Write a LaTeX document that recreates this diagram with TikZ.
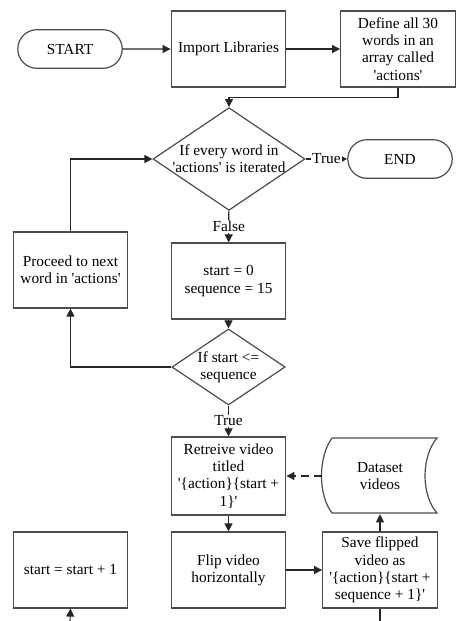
\documentclass[tikz,border=0pt]{standalone}
\usepackage{fontspec}
\setmainfont{Liberation Serif}
\usetikzlibrary{shapes.geometric,shapes.misc,arrows.meta,positioning}
\newcommand{\sq}{\textquotesingle}

\begin{document}
\begin{tikzpicture}[x=0.75pt,y=-0.75pt,
  font=\fontsize{11.5}{13}\selectfont,
  box/.style={draw=black!70,line width=0.9pt,fill=white,minimum width=86pt,minimum height=57pt,align=center,inner sep=1pt},
  term/.style={draw=black!70,line width=0.9pt,rounded rectangle,minimum width=85pt,minimum height=29pt},
  choice/.style={draw=black!70,line width=0.9pt,diamond,shape aspect=1.48,inner sep=-3pt,align=center},
  line/.style={draw=black!85,line width=0.8pt},
  go/.style={line,-{Triangle[length=6pt,width=6pt]}},
  tag/.style={fill=white,inner sep=1pt}]
%
\useasboundingbox (0,0) rectangle (457,621);
%
\node[term] (start) at (70,49) {START};
\node[box] (import) at (228.5,49) {Import Libraries};
\node[box] (define) at (398,49) {Define all 30\\words in an\\array called\\\sq actions\sq};
\node[choice,minimum width=114pt,minimum height=77pt] (check) at (229,159) {If every word in\\\sq actions\sq{} is iterated};
\node[term] (finish) at (400,159) {END};
\node[box] (next) at (70.5,270) {Proceed to next\\word in \sq actions\sq};
\node[box] (init) at (228.5,281) {start = 0\\sequence = 15};
\node[choice,minimum width=85pt,minimum height=57pt] (cond) at (228.5,367) {If start <=\\sequence};
\node[box,minimum height=58.5pt] (fetch) at (228.5,476) {Retreive video\\titled\\\sq\{action\}\{start +\\1\}\sq};
\node[minimum width=86pt,minimum height=57pt,align=center] (data) at (380,476) {Dataset\\videos};
\node[box] (inc) at (70.5,570) {start = start + 1};
\node[box] (flip) at (228.5,570) {Flip video\\horizontally};
\node[box] (save) at (380,570) {Save flipped\\video as\\\sq\{action\}\{start +\\sequence + 1\}\sq};
\coordinate (out) at (380,621);
\coordinate (back) at (70,621);
%
\draw[draw=black!70,line width=0.9pt] (332,438) -- (437,438) .. controls (421,457) and (421,495) .. (437,513) -- (332,513) .. controls (318,495) and (318,457) .. (332,438) -- cycle;
%
\draw[go] (start) -- (import);
\draw[go] (import) -- (define);
\draw[go] (define.south) -- ++(0,10) -| (check.north);
\draw[go] (check) -- node[tag] {True} (finish);
\draw[go] (check) -- node[tag] {False} (init);
\draw[go] (next.north) |- (check.west);
\draw[go] (init) -- (cond);
\draw[go] (cond.west) -| (next.south);
\draw[go] (cond) -- node[tag] {True} (fetch);
\draw[go,dash pattern=on 6pt off 4pt] (data.west) -- (fetch.east);
\draw[go] (fetch) -- (flip);
\draw[go] (flip) -- (save);
\draw[go] (save) -- (data);
\draw[line] (save.south) -- (out);
\draw[go] (back) -- (inc.south);
%
\end{tikzpicture}
\end{document}
